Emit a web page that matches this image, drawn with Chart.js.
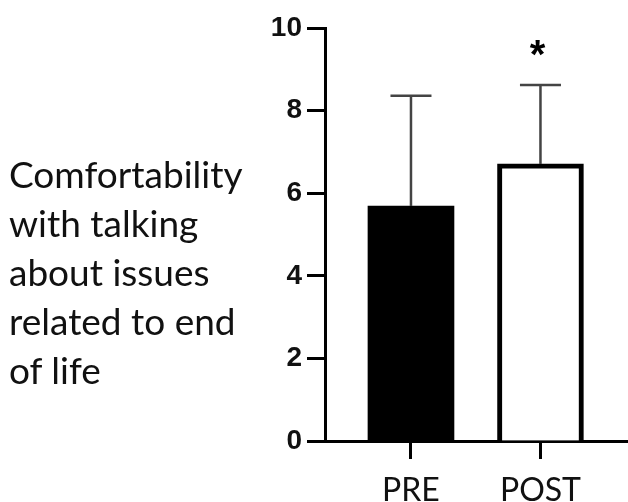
<!DOCTYPE html>
<html>
<head>
<meta charset="utf-8">
<script src="https://cdn.jsdelivr.net/npm/chart.js@4"></script>
<style>
  html, body { margin: 0; padding: 0; background: #fff; }
  #wrap { position: relative; width: 628px; height: 502px; }
  #side {
    position: absolute; left: 9px; top: 149px;
    font-family: Lato, "Open Sans", sans-serif; font-size: 37px; line-height: 49px;
    color: #111; white-space: nowrap;
  }
  canvas { position: absolute; left: 0; top: 0; }
</style>
</head>
<body>
<div id="wrap">
  <canvas id="c" width="628" height="502"></canvas>
  <div id="side">Comfortability<br>with talking<br>about issues<br>related to end<br>of life</div>
</div>
<script>
const categories = ['PRE', 'POST'];
const means = [5.69, 6.71];
const sds = [2.67, 1.91];
const markers = ['', '*'];
const yTicks = [0, 2, 4, 6, 8, 10];

const positions = categories.map((c, i) => i + 1);

const errorBars = {
  id: 'errorBars',
  afterDatasetsDraw(chart) {
    const meta = chart.getDatasetMeta(0);
    const ys = chart.scales.y;
    const ctx = chart.ctx;
    ctx.save();
    meta.data.forEach((bar, i) => {
      const x = bar.x;
      const yTop = ys.getPixelForValue(means[i]);
      const yErr = ys.getPixelForValue(means[i] + sds[i]);
      ctx.strokeStyle = '#444';
      ctx.lineWidth = 2.5;
      ctx.beginPath();
      ctx.moveTo(x, yTop);
      ctx.lineTo(x, yErr);
      ctx.moveTo(x - 20.5, yErr);
      ctx.lineTo(x + 20.5, yErr);
      ctx.stroke();
      if (markers[i]) {
        ctx.fillStyle = '#000';
        ctx.font = 'bold 40px "Liberation Sans", Arial, sans-serif';
        ctx.textAlign = 'center';
        ctx.textBaseline = 'middle';
        ctx.fillText(markers[i], x - 3, yErr - 28);
      }
    });
    ctx.restore();
  }
};

new Chart(document.getElementById('c'), {
  type: 'bar',
  data: {
    datasets: [{
      data: positions.map((p, i) => ({ x: p, y: means[i] })),
      backgroundColor: ['#000000', '#ffffff'],
      borderColor: '#000000',
      borderWidth: [0, 5],
      borderSkipped: 'bottom',
      barThickness: 86
    }]
  },
  options: {
    responsive: false,
    animation: false,
    events: [],
    layout: { padding: { top: 28, right: 0, bottom: 0, left: 0 } },
    plugins: { legend: { display: false }, tooltip: { enabled: false }, title: { display: false } },
    scales: {
      x: {
        type: 'linear',
        offset: false,
        min: 0.336,
        max: 2.676,
        afterBuildTicks(scale) { scale.ticks = positions.map(v => ({ value: v })); },
        afterFit(scale) { scale.height = 61; },
        border: { display: true, color: '#000', width: 3 },
        grid: { offset: false, drawOnChartArea: false, drawTicks: true, tickLength: 18, tickWidth: 3, tickColor: '#000' },
        ticks: {
          autoSkip: false,
          maxRotation: 0,
          padding: 12,
          color: '#111',
          font: { family: 'Lato, "Open Sans", sans-serif', size: 32 },
          callback: (v) => categories[positions.indexOf(v)] || ''
        }
      },
      y: {
        min: 0,
        max: 10,
        afterBuildTicks(scale) { scale.ticks = yTicks.map(v => ({ value: v })); },
        afterFit(scale) { scale.width = 325; },
        border: { display: true, color: '#000', width: 3 },
        grid: { drawOnChartArea: false, drawTicks: true, tickLength: 18, tickWidth: 3, tickColor: '#000' },
        ticks: {
          padding: 5,
          color: '#111',
          font: { family: '"Liberation Sans", Arial, sans-serif', size: 28, weight: 'bold' }
        }
      }
    }
  },
  plugins: [errorBars]
});
</script>
</body>
</html>
